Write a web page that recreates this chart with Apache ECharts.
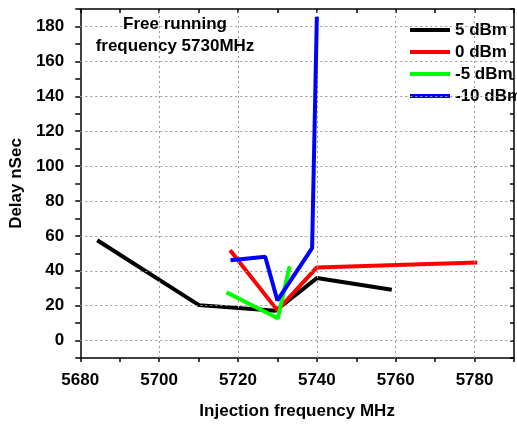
<!DOCTYPE html>
<html>
<head>
<meta charset="utf-8">
<script src="https://cdn.jsdelivr.net/npm/echarts@6/dist/echarts.min.js"></script>
<style>
  html, body { margin: 0; padding: 0; background: #fff; }
  #main { width: 517px; height: 425px; }
</style>
</head>
<body>
<div id="main"></div>
<script>
// series: injection frequency (MHz) vs delay (nSec)
const seriesNames = ['5 dBm', '0 dBm', '-5 dBm', '-10 dBm']
const seriesColors = ['#000000', '#ff0000', '#00ff00', '#0000ff']

const freqP5 = [5684.3, 5710.1, 5729.5, 5740.0, 5759.0]
const delayP5 = [57.5, 20.3, 17.1, 35.8, 29.1]

const freq0 = [5718.0, 5730.0, 5740.0, 5780.7]
const delay0 = [51.8, 17.3, 41.9, 44.7]

const freqM5 = [5717.1, 5730.1, 5733.1]
const delayM5 = [27.6, 12.8, 42.6]

const freqM10 = [5718.1, 5726.9, 5730.0, 5738.8, 5740.0]
const delayM10 = [46.0, 48.0, 23.0, 53.0, 185.6]

// grid lines
const gridX = [5700, 5720, 5740, 5760, 5780]
const gridY = [0, 20, 40, 60, 80, 100, 120, 140, 160, 180]

const allFreq = [freqP5, freq0, freqM5, freqM10]
const allDelay = [delayP5, delay0, delayM5, delayM10]

const chart = echarts.init(document.getElementById('main'))
const font = 'Arial, "Liberation Sans", sans-serif'
const fs = 17

const axisCommon = {
  axisLine: {show: true, onZero: false, lineStyle: {color: '#000', width: 1.5}},
  splitLine: {show: false}
}

chart.setOption({
  animation: false,
  backgroundColor: '#fff',
  grid: {left: 79, right: 2, top: 9, bottom: 60, containLabel: false},
  title: {
    text: 'Free running\nfrequency 5730MHz',
    left: 170,
    top: 8,
    textAlign: 'center',
    textStyle: {fontFamily: font, fontWeight: 'bold', fontSize: fs, lineHeight: 22, color: '#000'}
  },
  legend: {
    data: seriesNames,
    orient: 'vertical',
    left: 405,
    top: 16,
    icon: 'rect',
    itemWidth: 40,
    itemHeight: 4,
    itemGap: 4,
    textStyle: {fontFamily: font, fontWeight: 'bold', fontSize: fs, lineHeight: 18, color: '#000'}
  },
  xAxis: [{
    ...axisCommon,
    type: 'value',
    min: 5680,
    max: 5790,
    interval: 10,
    name: 'Injection frequency MHz',
    nameLocation: 'middle',
    nameGap: 45,
    nameTextStyle: {fontFamily: font, fontWeight: 'bold', fontSize: fs, color: '#000'},
    axisTick: {show: true, length: 4, lineStyle: {color: '#000', width: 1.5}},
    axisLabel: {
      margin: 14,
      fontFamily: font, fontWeight: 'bold', fontSize: fs, color: '#000',
      formatter: v => (v % 20 === 0 && v < 5790) ? String(v) : ''
    }
  }, {
    ...axisCommon,
    type: 'value',
    position: 'top',
    min: 5680,
    max: 5790,
    interval: 10,
    axisTick: {show: true, inside: true, length: 4, lineStyle: {color: '#000', width: 1.5}},
    axisLabel: {show: false}
  }],
  yAxis: [{
    ...axisCommon,
    type: 'value',
    min: -10,
    max: 190,
    interval: 10,
    name: 'Delay nSec',
    nameLocation: 'middle',
    nameGap: 51,
    nameRotate: 90,
    nameTextStyle: {fontFamily: font, fontWeight: 'bold', fontSize: fs, color: '#000'},
    axisTick: {show: true, length: 5, lineStyle: {color: '#000', width: 1.5}},
    axisLabel: {
      margin: 16,
      fontFamily: font, fontWeight: 'bold', fontSize: fs, color: '#000',
      formatter: v => (v % 20 === 0 && v >= 0 && v <= 180) ? String(v) : ''
    }
  }, {
    ...axisCommon,
    type: 'value',
    position: 'right',
    min: -10,
    max: 190,
    interval: 10,
    axisTick: {show: true, inside: true, length: 4, lineStyle: {color: '#000', width: 1.5}},
    axisLabel: {show: false}
  }],
  series: [
    {
      name: 'grid',
      type: 'line',
      data: [],
      z: 1,
      silent: true,
      markLine: {
        silent: true,
        symbol: 'none',
        label: {show: false},
        lineStyle: {type: [2, 3], color: '#999', width: 1},
        data: gridY.map(v => ({yAxis: v})).concat(gridX.map(v => ({xAxis: v})))
      }
    },
    ...seriesNames.map((name, i) => ({
      name: name,
      type: 'line',
      z: 3 + i,
      showSymbol: false,
      symbol: 'none',
      data: allFreq[i].map((f, j) => [f, allDelay[i][j]]),
      lineStyle: {color: seriesColors[i], width: 4},
      itemStyle: {color: seriesColors[i]}
    }))
  ]
})
</script>
</body>
</html>
